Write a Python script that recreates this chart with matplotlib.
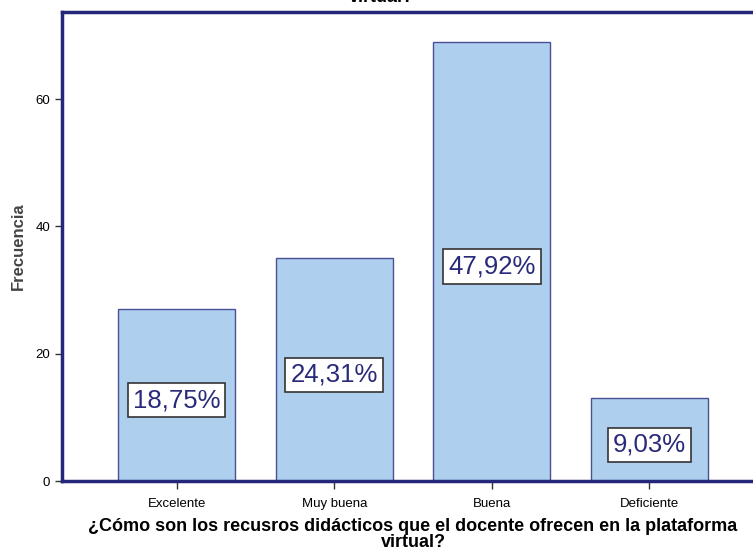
import matplotlib.pyplot as plt
import numpy as np

plt.rcParams['font.family'] = ['Liberation Sans', 'DejaVu Sans']

categorias = ['Excelente', 'Muy buena', 'Buena', 'Deficiente']
frecuencias = [27, 35, 69, 13]
porcentajes = ['18,75%', '24,31%', '47,92%', '9,03%']
titulo = '¿Cómo son los recusros didácticos que el docente ofrecen en la plataforma\nvirtual?'

fig = plt.figure(figsize=(7.53, 5.54), dpi=100)
ax = fig.add_axes([62/753, (554-481)/554, (764-62)/753, (481-12)/554])

x = np.arange(len(categorias))
ax.bar(x, frecuencias, width=0.743, color='#aed0ee', edgecolor='#4a4f96', linewidth=1.0, zorder=2)

for xi, f, p in zip(x, frecuencias, porcentajes):
    ax.text(xi, f/2 - 0.8, p, ha='center', va='center', fontsize=18.5, color='#2a2a7a', zorder=3,
            bbox=dict(boxstyle='square,pad=0.2', facecolor='white', edgecolor='#333333', linewidth=1.2))

ax.set_xlim(-0.727, 3.727)
ax.set_ylim(0, 73.7)
ax.set_yticks([0, 20, 40, 60])
ax.set_xticks(x)
ax.set_xticklabels(categorias, fontsize=9.5)
ax.tick_params(axis='y', labelsize=9.5, length=5, width=1, color='#333333')
ax.tick_params(axis='x', length=6, width=1, color='#333333', pad=6)

for s in ['left', 'top', 'bottom']:
    ax.spines[s].set_color('#25257a')
    ax.spines[s].set_linewidth(2.5)
ax.spines['right'].set_visible(False)

ax.set_ylabel('Frecuencia', fontsize=12, fontweight='bold', color='#444444', labelpad=7)
ax.set_xlabel(titulo, fontsize=13, fontweight='bold', linespacing=0.95, labelpad=6)

# titulo recortado en la parte superior
fig.text(381/753, 1.0 + 0.02, 'virtual?', ha='center', va='top', fontsize=13, fontweight='bold')

fig.savefig('out.png', dpi=100)
